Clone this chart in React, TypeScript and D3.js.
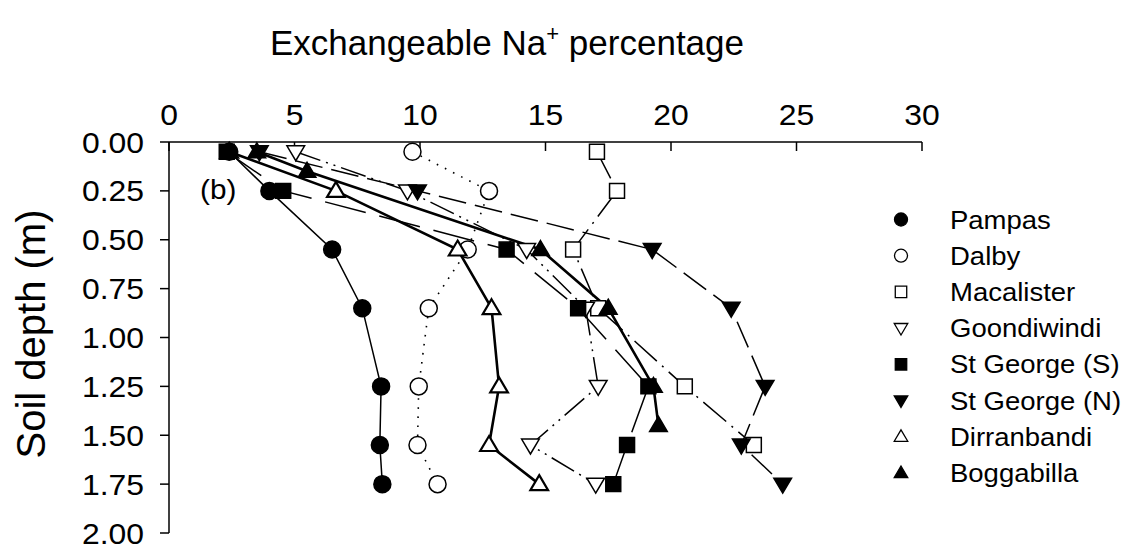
import React from "react";
import * as d3 from "d3";

const depths = [0.05, 0.25, 0.55, 0.85, 1.25, 1.55, 1.75];
const depthsMac = [0.05, 0.25, 0.55, 0.85, 1.25, 1.55];
const depthsBog = [0.05, 0.15, 0.55, 0.85, 1.25, 1.45];

const pampas = [2.4, 4.0, 6.5, 7.7, 8.45, 8.4, 8.5];
const dalby = [9.7, 12.75, 11.9, 10.35, 9.95, 9.9, 10.7];
const macalister = [17.05, 17.85, 16.1, 17.1, 20.55, 23.3];
const goondiwindi = [5.05, 9.5, 14.25, 16.6, 17.1, 14.4, 17.0];
const stGeorgeS = [2.3, 4.55, 13.45, 16.3, 19.1, 18.25, 17.7];
const stGeorgeN = [3.6, 9.9, 19.25, 22.4, 23.75, 22.8, 24.45];
const dirranbandi = [2.4, 6.65, 11.5, 12.85, 13.15, 12.75, 14.75];
const boggabilla = [3.5, 5.5, 14.8, 17.5, 19.3, 19.5];

const xTicks = [0, 5, 10, 15, 20, 25, 30];
const yTicks = [0, 0.25, 0.5, 0.75, 1.0, 1.25, 1.5, 1.75, 2.0];

type Shape = "circle" | "square" | "down" | "up";
interface Series {
  name: string;
  xs: number[];
  ds: number[];
  shape: Shape;
  filled: boolean;
  dash: string;
  width: number;
}

const series: Series[] = [
  { name: "Pampas", xs: pampas, ds: depths, shape: "circle", filled: true, dash: "", width: 1.5 },
  { name: "Dalby", xs: dalby, ds: depths, shape: "circle", filled: false, dash: "1.6 7.5", width: 1.6 },
  { name: "Macalister", xs: macalister, ds: depthsMac, shape: "square", filled: false, dash: "30 7 2 7", width: 1.5 },
  { name: "Goondiwindi", xs: goondiwindi, ds: depths, shape: "down", filled: false, dash: "26 6 2 6 2 6", width: 1.5 },
  { name: "St George (S)", xs: stGeorgeS, ds: depths, shape: "square", filled: true, dash: "42 14", width: 1.5 },
  { name: "St George (N)", xs: stGeorgeN, ds: depths, shape: "down", filled: true, dash: "28 9", width: 1.5 },
  { name: "Dirranbandi", xs: dirranbandi, ds: depths, shape: "up", filled: false, dash: "", width: 2.6 },
  { name: "Boggabilla", xs: boggabilla, ds: depthsBog, shape: "up", filled: true, dash: "", width: 2.6 },
];

const FONT = "'Liberation Sans', Arial, Helvetica, sans-serif";

function markerPath(shape: Shape, s: number): string {
  if (shape === "circle") {
    const r = s / 2;
    return `M${-r},0A${r},${r} 0 1,0 ${r},0A${r},${r} 0 1,0 ${-r},0Z`;
  }
  if (shape === "square") {
    const h = s * 0.44;
    return `M${-h},${-h}H${h}V${h}H${-h}Z`;
  }
  const w = s * 0.52;
  const hh = s * 0.88;
  if (shape === "up") {
    return `M0,${-hh * 0.6}L${w},${hh * 0.4}L${-w},${hh * 0.4}Z`;
  }
  return `M0,${hh * 0.6}L${w},${-hh * 0.4}L${-w},${-hh * 0.4}Z`;
}

function T({ x, y, size, anchor = "start", children, rotate = 0, sx = 1.1 }: any) {
  const tr = rotate
    ? `translate(${x},${y}) rotate(${rotate}) scale(1,${sx})`
    : `translate(${x},${y}) scale(${sx},1)`;
  return (
    <g transform={tr}>
      <text x={0} y={0} fontSize={size} textAnchor={anchor} fontFamily={FONT} fill="#000">
        {children}
      </text>
    </g>
  );
}

export default function App() {
  const W = 1132;
  const H = 550;
  const x = d3.scaleLinear().domain([0, 30]).range([169, 922]);
  const y = d3.scaleLinear().domain([0, 2]).range([142, 533]);

  const line = d3
    .line<[number, number]>()
    .x((d) => x(d[0]))
    .y((d) => y(d[1]));

  const legX = 901;
  const legY0 = 219.5;
  const legStep = 36.2;

  const openFirst = [...series.filter((s) => !s.filled), ...series.filter((s) => s.filled)];

  return (
    <svg
      width={W}
      height={H}
      style={{ position: "absolute", left: 0, top: 0, background: "#fff" }}
    >
      <rect x={0} y={0} width={W} height={H} fill="#fff" />
      {/* Title */}
      <T x={507} y={55} size={35} anchor="middle" sx={1}>
        Exchangeable Na
        <tspan fontSize={22} dy={-14}>+</tspan>
        <tspan dy={14}> percentage</tspan>
      </T>
      {/* Y label */}
      <T x={45} y={334} size={40} anchor="middle" rotate={-90} sx={1}>
        Soil depth (m)
      </T>
      {/* Axes */}
      <line x1={x(0)} x2={x(30)} y1={y(0)} y2={y(0)} stroke="#000" strokeWidth={1.5} />
      <line x1={x(0)} x2={x(0)} y1={y(0)} y2={y(2)} stroke="#000" strokeWidth={1.5} />
      {xTicks.map((t) => (
        <g key={"xt" + t}>
          <line x1={x(t)} x2={x(t)} y1={y(0)} y2={y(0) + 9} stroke="#000" strokeWidth={1.5} />
          <T x={x(t)} y={125} size={29} anchor="middle">
            {String(t)}
          </T>
        </g>
      ))}
      {yTicks.map((t) => (
        <g key={"yt" + t}>
          <line x1={x(0) - 9} x2={x(0)} y1={y(t)} y2={y(t)} stroke="#000" strokeWidth={1.5} />
          <T x={144} y={y(t) + 10.5} size={29} anchor="end">
            {t.toFixed(2)}
          </T>
        </g>
      ))}
      {/* panel label */}
      <T x={200} y={199} size={27}>
        (b)
      </T>
      {/* lines */}
      {series.map((s) => (
        <path
          key={"l" + s.name}
          d={line(s.xs.map((v, i) => [v, s.ds[i]] as [number, number])) || ""}
          fill="none"
          stroke="#000"
          strokeWidth={s.width}
          strokeDasharray={s.dash || undefined}
        />
      ))}
      {/* markers: open first, then filled */}
      {openFirst.map((s) => (
        <g key={"m" + s.name}>
          {s.xs.map((v, i) => (
            <path
              key={i}
              transform={`translate(${x(v)},${y(s.ds[i])})`}
              d={markerPath(s.shape, 17)}
              fill={s.filled ? "#000" : "#fff"}
              stroke="#000"
              strokeWidth={s.name === "Dirranbandi" ? 2.2 : 1.5}
            />
          ))}
        </g>
      ))}
      {/* legend */}
      {series.map((s, i) => (
        <g key={"lg" + s.name}>
          <path
            transform={`translate(${legX},${legY0 + i * legStep})`}
            d={markerPath(s.shape, 13)}
            fill={s.filled ? "#000" : "#fff"}
            stroke="#000"
            strokeWidth={1.3}
          />
          <T x={950} y={legY0 + i * legStep + 9} size={25}>
            {s.name}
          </T>
        </g>
      ))}
    </svg>
  );
}
